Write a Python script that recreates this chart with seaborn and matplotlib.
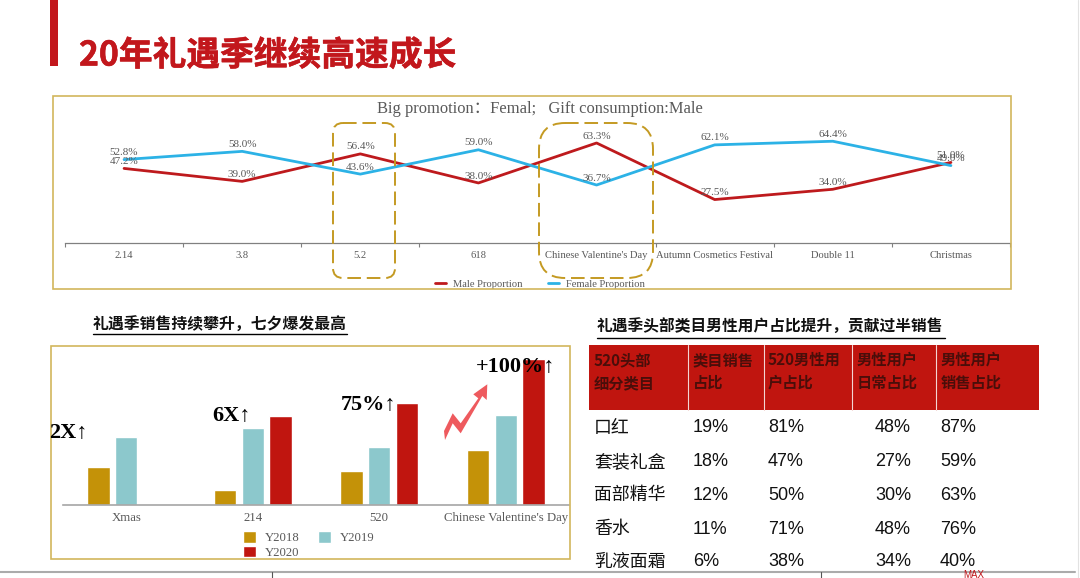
import pandas as pd
import seaborn as sns
import matplotlib.pyplot as plt
import matplotlib.patheffects as pe
from matplotlib.patches import FancyBboxPatch, Polygon, Rectangle

# line chart data
promo_days = ['2.14', '3.8', '5.2', '618', "Chinese Valentine's Day",
              'Autumn Cosmetics Festival', 'Double 11', 'Christmas']
male_share = [47.2, 39.0, 56.4, 38.0, 63.3, 27.5, 34.0, 51.0]
female_share = [52.8, 58.0, 43.6, 59.0, 36.7, 62.1, 64.4, 49.0]

# bar chart data (no Y2020 for Xmas)
bar_groups = ['Xmas', '214', '520', "Chinese Valentine's Day"]
y2018 = [38, 15, 34, 55]
y2019 = [68, 77, 58, 90]
y2020 = [None, 89, 102, 146]
growth_labels = ['2X↑', '6X↑', '75%↑', '+100%↑']

# table data
table_header = [['520头部', '细分类目'], ['类目销售', '占比'], ['520男性用', '户占比'],
                ['男性用户', '日常占比'], ['男性用户', '销售占比']]
table_cats = ['口红', '套装礼盒', '面部精华', '香水', '乳液面霜']
cat_sales = ['19%', '18%', '12%', '11%', '6%']
male_520 = ['81%', '47%', '50%', '71%', '38%']
male_daily = ['48%', '27%', '30%', '48%', '34%']
male_sales = ['87%', '59%', '63%', '76%', '40%']

RED = '#C0150F'
GOLD = '#C49208'
TEAL = '#8CC8CC'
FRAME = '#D2B65C'
GREY = '#595959'
W, H = 1080, 578

sns.set_theme(style='white')
plt.rcParams['font.family'] = ['Liberation Serif', 'Noto Sans CJK SC']

fig = plt.figure(figsize=(W / 100, H / 100), dpi=100, facecolor='white')


def px_axes(left, top, right, bottom):
    return fig.add_axes([left / W, 1 - bottom / H, (right - left) / W, (bottom - top) / H],
                        facecolor='none')


# line chart
ax1 = px_axes(65, 85, 1010, 243)
df_line = pd.DataFrame({
    'day': promo_days * 2,
    'share': male_share + female_share,
    'series': ['Male Proportion'] * 8 + ['Female Proportion'] * 8,
})
sns.lineplot(data=df_line, x='day', y='share', hue='series', sort=False, errorbar=None,
             palette={'Male Proportion': '#BE1A1D', 'Female Proportion': '#2CB2E6'},
             linewidth=2, ax=ax1)
ax1.set_xlim(-0.5, 7.5)
ax1.set_ylim(0, 100)
ax1.set_xlabel('')
ax1.set_ylabel('')
ax1.set_yticks([])
ax1.set_xticks([i - 0.5 for i in range(9)])
ax1.set_xticklabels([])
ax1.set_xticks(range(8), minor=True)
ax1.set_xticklabels(promo_days, minor=True, fontsize=7.6, color=GREY)
ax1.tick_params(axis='x', which='major', length=3, width=0.8, color='#808080', bottom=True)
ax1.tick_params(axis='x', which='minor', length=0, pad=6)
for side in ['top', 'left', 'right']:
    ax1.spines[side].set_visible(False)
ax1.spines['bottom'].set_color('#808080')
ax1.spines['bottom'].set_linewidth(0.9)
for i in range(8):
    ax1.annotate(f'{male_share[i]:.1f}%', (i, male_share[i]), xytext=(0, 5), textcoords='offset points',
                 ha='center', va='center', fontsize=8, color=GREY)
    ax1.annotate(f'{female_share[i]:.1f}%', (i, female_share[i]), xytext=(0, 5), textcoords='offset points',
                 ha='center', va='center', fontsize=8, color=GREY)
handles, labels = ax1.get_legend_handles_labels()
ax1.legend(handles, labels, ncol=2, loc='center', bbox_to_anchor=(540 / W, 1 - 284 / H),
           bbox_transform=fig.transFigure, frameon=False, fontsize=7.6, labelcolor=GREY,
           handlelength=1.0, handletextpad=0.7, columnspacing=2.4)

# bar chart
ax2 = px_axes(63, 345, 569, 505)
df_bar = pd.DataFrame({
    'group': bar_groups * 3,
    'sales': y2018 + y2019 + y2020,
    'year': ['Y2018'] * 4 + ['Y2019'] * 4 + ['Y2020'] * 4,
})
sns.barplot(data=df_bar, x='group', y='sales', hue='year', width=0.657, gap=0.2, errorbar=None,
            palette={'Y2018': GOLD, 'Y2019': TEAL, 'Y2020': RED}, saturation=1, ax=ax2)
ax2.set_ylim(0, 160)
ax2.set_xlim(-0.5, 3.5)
ax2.set_xlabel('')
ax2.set_ylabel('')
ax2.set_yticks([])
ax2.tick_params(axis='x', length=0, pad=5, labelsize=9.2, labelcolor=GREY)
for side in ['top', 'left', 'right']:
    ax2.spines[side].set_visible(False)
ax2.spines['bottom'].set_color('#A6A6A6')
ax2.spines['bottom'].set_linewidth(1.2)
# legend fills by column, so Y2020 goes second to sit under Y2018
bar_handles, bar_labels = ax2.get_legend_handles_labels()
leg_order = [0, 2, 1]
ax2.legend([bar_handles[i] for i in leg_order], [bar_labels[i] for i in leg_order], ncol=2, loc='center',
           bbox_to_anchor=(308.5 / W, 1 - 545 / H), bbox_transform=fig.transFigure,
           frameon=False, fontsize=9.2, labelcolor=GREY, handlelength=1.05, handleheight=1.05,
           handletextpad=0.7, columnspacing=1.4, labelspacing=0.1, borderpad=0)

# everything else is drawn on top in pixel coords
over = fig.add_axes([0, 0, 1, 1], facecolor='none')
over.set_xlim(0, W)
over.set_ylim(H, 0)
over.axis('off')

over.add_patch(Rectangle((50, 0), 8, 66, color='#C2171C', lw=0))
over.text(79, 55, '20年礼遇季继续高速成长', fontsize=24.3, fontweight='bold', color='#C2171C',
          family='Noto Sans CJK SC', va='center', ha='left',
          path_effects=[pe.withStroke(linewidth=0.4, foreground='#C2171C')])

over.add_patch(Rectangle((53, 96), 958, 193, fill=False, ec=FRAME, lw=1.2))
over.add_patch(Rectangle((51, 346), 519, 213, fill=False, ec=FRAME, lw=1.2))
over.text(539.5, 109, 'Big promotion：Femal;   Gift consumption:Male', fontsize=11.9, color=GREY,
          ha='center', va='center')

# dashed highlight boxes
for x0, x1, r in [(333, 395, 10), (539, 653, 26)]:
    over.add_patch(FancyBboxPatch((x0 + r, 123 + r), x1 - x0 - 2 * r, 155 - 2 * r,
                                  boxstyle=f'round,pad={r},rounding_size={r}', fill=False,
                                  ec='#C49A22', lw=1.4, ls=(0, (7, 3))))

# growth labels over the bars
growth_pos = [(68, 433), (231, 416), (369, 405), (516, 367)]
for txt, (x, y) in zip(growth_labels, growth_pos):
    over.text(x, y, txt, fontsize=16, fontweight='bold', color='black', ha='center', va='center')

over.add_patch(Polygon([(444, 431), (452.7, 413.3), (460.7, 423.3), (478.3, 398.3), (473.3, 394.3),
                        (487.3, 384.3), (486.7, 400), (482.3, 396), (460.7, 433.3), (452.7, 423.3),
                        (445, 440)], closed=True, color='#EE5A5E', lw=0))

# section titles
over.text(93, 325, '礼遇季销售持续攀升，七夕爆发最高', fontsize=11.4, fontweight='bold', color='#111111',
          family='Noto Sans CJK SC', va='center')
over.plot([93, 347], [334, 334], color='black', lw=1)
over.text(597, 327, '礼遇季头部类目男性用户占比提升，贡献过半销售', fontsize=11.3, fontweight='bold',
          color='#111111', family='Noto Sans CJK SC', va='center')
over.plot([597, 945], [338, 338], color='black', lw=1)

# table
over.add_patch(Rectangle((589, 344.5), 450, 65.5, color=RED, lw=0))
for x in [688, 763.5, 851.5, 935.5]:
    over.plot([x, x], [344.5, 410], color='#F3D6D4', lw=0.8)
header_x = [594, 693, 768, 857, 941]
for x, lines in zip(header_x, table_header):
    over.text(x, 360, lines[0], fontsize=11, fontweight='bold', color='#4A0E0A',
              family='Noto Sans CJK SC', va='center')
    over.text(x, 383, lines[1], fontsize=11, fontweight='bold', color='#4A0E0A',
              family='Noto Sans CJK SC', va='center')
row_y = [428, 462, 495, 529, 562]
value_cols = [(693, cat_sales), (768, male_520), (875, male_daily), (940, male_sales)]
for i, y in enumerate(row_y):
    over.text(594, y, table_cats[i], fontsize=12.9, color='#111111', family='Noto Sans CJK SC', va='center')
    for x, col in value_cols:
        over.text(x, y, col[i], fontsize=13, color='#111111', family='Liberation Sans', va='center')

# slide footer
over.plot([0, 1075], [572, 572], color='#ABABAB', lw=1.5)
over.plot([272, 272], [572, 578], color='#555555', lw=0.8)
over.plot([821, 821], [572, 578], color='#555555', lw=0.8)
over.plot([1078, 1078], [0, 578], color='#E2E2E2', lw=0.8)
over.text(963, 580, 'MAX', fontsize=7, color='#C2171C', family='Liberation Sans', va='bottom', clip_on=True)

fig.savefig('out.png', dpi=100)
